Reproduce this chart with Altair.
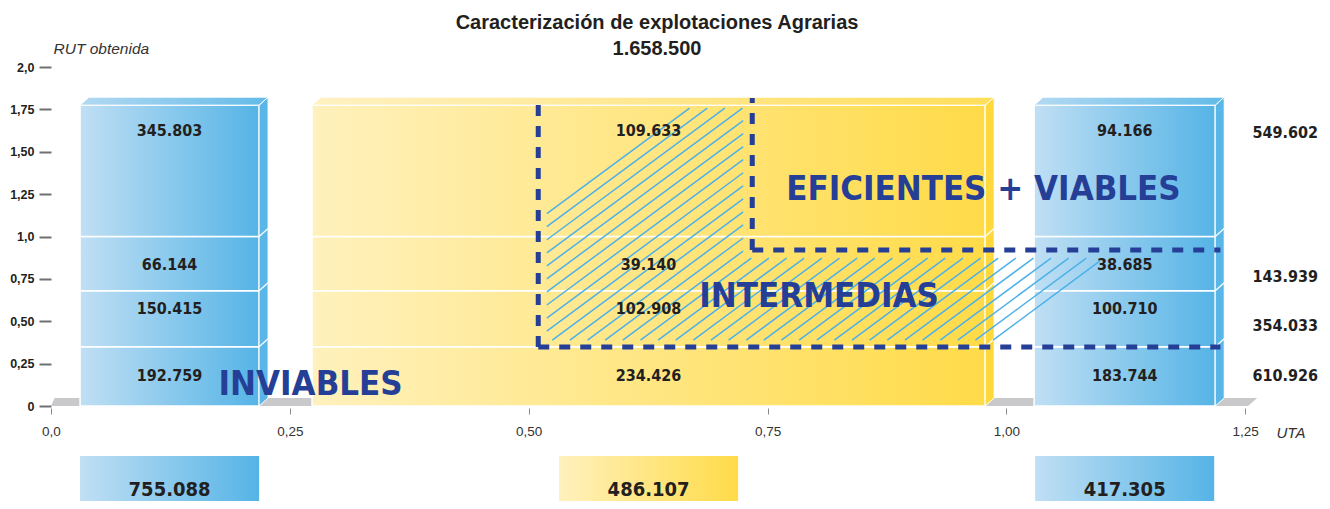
import altair as alt
import pandas as pd

# ---------------- data ----------------
title_lines = ["Caracterización de explotaciones Agrarias", "1.658.500"]
uta_classes = ["< 0,25 UTA", "0,25 - 1 UTA", "> 1 UTA"]
uta_bounds = [0.0, 0.25, 1.0, 1.25]          # UTA class limits (x)
rut_bounds = [0.0, 0.35, 0.68, 1.0, 1.775]   # RUT class limits (y)
col_kind = ["blue", "yellow", "blue"]

counts_uta_low = [192759, 150415, 66144, 345803]   # bottom -> top
counts_uta_mid = [234426, 102908, 39140, 109633]
counts_uta_high = [183744, 100710, 38685, 94166]
row_totals = [610926, 354033, 143939, 549602]
col_totals = [755088, 486107, 417305]

zone_labels = ["INVIABLES", "INTERMEDIAS", "EFICIENTES + VIABLES"]

x_ticks = [0, 0.25, 0.5, 0.75, 1.0, 1.25]
x_tick_labels = ["0,0", "0,25", "0,50", "0,75", "1,00", "1,25"]
y_ticks = [0, 0.25, 0.5, 0.75, 1.0, 1.25, 1.5, 1.75, 2.0]
y_tick_labels = ["0", "0,25", "0,50", "0,75", "1,0", "1,25", "1,50", "1,75", "2,0"]

# ---------------- layout / style ----------------
PX_X, PX_Y = 955.2, 169.5
X_MAX, Y_MIN, Y_MAX = 1.3, -0.56, 2.0
W = round(X_MAX * PX_X)
H = round((Y_MAX - Y_MIN) * PX_Y)
DX, DY = 9 / PX_X, 8 / PX_Y
INSET_L = [0.0304, 0.0232, 0.029]
INSET_R = [0.0322, 0.0222, 0.0314]
LABEL_Y = [0.18, 0.57, 0.83, 1.62]
LABEL_Y_TOT = [0.18, 0.47, 0.76, 1.61]
TOT_X = 1.292
BOX_TOP = -0.295
BOX_LABEL_Y = -0.496
ZONE_POS = [(0.2717, 0.065), (0.804, 0.584), (0.976, 1.215)]
HATCH_RECTS = [(0.519, 0.7245, 0.389, 1.758), (0.7245, 1.098, 0.389, 0.873)]
HATCH_FIRST = (0.5199, 1.1386)
HATCH_LAST = (0.9904, 0.4071)
HATCH_N = 36
HATCH_SLOPE_PX = 0.74
ZONE_X = [0.51, 0.734, 1.224]
ZONE_Y = [0.348, 0.92, 1.817]

TXT = "#231f20"
DARKBLUE = "#253f97"
NUM_FONT = "DejaVu Sans Condensed, DejaVu Sans"
BIG_FONT = "DejaVu Sans Condensed, DejaVu Sans"
AX_FONT = "Liberation Sans"


def grad(c0, c1):
    return alt.Gradient(gradient="linear",
                        stops=[alt.GradientStop(color=c0, offset=0),
                               alt.GradientStop(color=c1, offset=1)],
                        x1=0, x2=1, y1=0, y2=0)


FACE = {"blue": grad("#c0dff4", "#55b4e6"), "yellow": grad("#fff1bd", "#ffdb48")}
TOP = {"blue": grad("#b3d9f2", "#62bbe8"), "yellow": grad("#fff1c2", "#ffde5a")}
SIDE = {"blue": "#5ab6e6", "yellow": "#ffd93c"}

XS = alt.Scale(domain=[0, X_MAX], nice=False, zero=False)
YS = alt.Scale(domain=[Y_MIN, Y_MAX], nice=False, zero=False)

ylab = ("[" + ",".join(f"'{t}'" for t in y_tick_labels) + "][indexof(["
        + ",".join(str(v) for v in y_ticks) + "], datum.value)]")
xlab = ("[" + ",".join(f"'{t}'" for t in x_tick_labels) + "][indexof(["
        + ",".join(str(v) for v in x_ticks) + "], datum.value)]")

Y_AXIS = alt.Axis(values=y_ticks, labelExpr=ylab, domain=False, grid=False,
                  labelFlush=False, labelOverlap=False,
                  tickSize=12, tickWidth=2, tickColor="#707070", labelPadding=5,
                  labelFont=AX_FONT, labelFontSize=12.5, labelFontWeight="bold", labelColor=TXT,
                  title="RUT obtenida", titleAngle=0, titleAlign="left", titleBaseline="middle",
                  titleX=2, titleY=-19, titleFont=AX_FONT, titleFontSize=15.5,
                  titleFontStyle="italic", titleFontWeight="normal", titleColor="#333333")
X_AXIS = alt.Axis(values=x_ticks, labelExpr=xlab, domain=False, grid=False,
                  labelFlush=False, labelOverlap=False,
                  offset=-(round(-Y_MIN * PX_Y) - 2),
                  tickSize=6, tickWidth=1, tickColor="#8a8a8a", labelPadding=10,
                  labelFont=AX_FONT, labelFontSize=13.5, labelColor="#333333",
                  title="UTA", titleAlign="left", titleBaseline="middle",
                  titleX=1225, titleY=24, titleFont=AX_FONT, titleFontSize=15,
                  titleFontStyle="italic", titleFontWeight="normal", titleColor="#333333")


def X(f):
    return alt.X(f, type="quantitative", scale=XS, axis=X_AXIS)


def Y(f):
    return alt.Y(f, type="quantitative", scale=YS, axis=Y_AXIS)


def fmt(v):
    return f"{v:,}".replace(",", ".")


cols = [counts_uta_low, counts_uta_mid, counts_uta_high]
faces = [(lo + INSET_L[i], hi - INSET_R[i])
         for i, (lo, hi) in enumerate(zip(uta_bounds[:-1], uta_bounds[1:]))]
top = rut_bounds[-1]
bw = faces[0][1] - faces[0][0]

cells, sides, tops, seps, boxes = [], [], [], [], []
for ci, (fx0, fx1) in enumerate(faces):
    xc = (fx0 + fx1) / 2
    k = col_kind[ci]
    for ri in range(4):
        cells.append(dict(col=ci, kind=k, x0=fx0, x1=fx1, y0=rut_bounds[ri],
                          y1=rut_bounds[ri + 1], xc=xc, ly=LABEL_Y[ri],
                          label=fmt(cols[ci][ri])))
    sides += [dict(col=ci, kind=k, x=fx1, y=0, y2=top),
              dict(col=ci, kind=k, x=fx1 + DX, y=DY, y2=top + DY)]
    tops += [dict(col=ci, kind=k, y=top, x=fx0, x2=fx1),
             dict(col=ci, kind=k, y=top + DY, x=fx0 + DX, x2=fx1 + DX)]
    for b in rut_bounds[1:-1]:
        seps.append(dict(x=fx1, y=b, x2=fx1 + DX, y2=b + DY))
    boxes.append(dict(col=ci, kind=k, x0=xc - bw / 2, x1=xc + bw / 2,
                      y0=BOX_TOP, y1=Y_MIN, xc=xc, ly=BOX_LABEL_Y,
                      label=fmt(col_totals[ci])))

cells = pd.DataFrame(cells)
sides = pd.DataFrame(sides)
tops = pd.DataFrame(tops)
seps = pd.DataFrame(seps)
boxes = pd.DataFrame(boxes)

# floor shadows between bars
floor = []
edges = [(0.0, faces[0][0], 0.4 * DX, 0.0)]
for i in range(len(faces) - 1):
    edges.append((faces[i][1], faces[i + 1][0], DX, 0.0))
edges.append((faces[-1][1], 1.253, DX, DX))
for pi, (a, b, sa, sb) in enumerate(edges):
    floor += [dict(p=pi, y=0, x=a, x2=b), dict(p=pi, y=DY, x=a + sa, x2=b + sb)]
floor = pd.DataFrame(floor)

# hatching (parallel segments clipped to the intermediate zone)
s = HATCH_SLOPE_PX * PX_X / PX_Y
k1 = HATCH_FIRST[1] - s * HATCH_FIRST[0]
k2 = HATCH_LAST[1] - s * HATCH_LAST[0]
hatch = []
for i in range(HATCH_N):
    kk = k1 + (k2 - k1) * i / (HATCH_N - 1)
    for (rx0, rx1, ry0, ry1) in HATCH_RECTS:
        xa = max(rx0, (ry0 - kk) / s)
        xb = min(rx1, (ry1 - kk) / s)
        if xb > xa:
            hatch.append(dict(x=xa, y=s * xa + kk, x2=xb, y2=s * xb + kk))
hatch = pd.DataFrame(hatch)

dashes = pd.DataFrame([
    dict(x=ZONE_X[0], x2=ZONE_X[0], y=ZONE_Y[0], y2=ZONE_Y[2]),
    dict(x=ZONE_X[0], x2=ZONE_X[2], y=ZONE_Y[0], y2=ZONE_Y[0]),
    dict(x=ZONE_X[1], x2=ZONE_X[1], y=ZONE_Y[1], y2=ZONE_Y[2]),
    dict(x=ZONE_X[1], x2=ZONE_X[2], y=ZONE_Y[1], y2=ZONE_Y[1]),
])

totals = pd.DataFrame(dict(x=[TOT_X] * 4, y=LABEL_Y_TOT, label=[fmt(v) for v in row_totals]))
zones = pd.DataFrame(dict(x=[p[0] for p in ZONE_POS], y=[p[1] for p in ZONE_POS], label=zone_labels))

# ---------------- layers ----------------
layers = []
layers.append(alt.Chart(floor).mark_area(orient="horizontal", fill="#c9c9cb").encode(
    y=Y("y"), x=X("x"), x2="x2", detail="p:N"))

for kind in ["blue", "yellow"]:
    layers.append(alt.Chart(cells[cells.kind == kind]).mark_rect(
        fill=FACE[kind], stroke="white", strokeWidth=1.5).encode(
        x=X("x0"), x2="x1", y=Y("y0"), y2="y1"))
    layers.append(alt.Chart(sides[sides.kind == kind]).mark_area(
        orient="vertical", fill=SIDE[kind], stroke="white", strokeWidth=1).encode(
        x=X("x"), y=Y("y"), y2="y2", detail="col:N"))
    layers.append(alt.Chart(tops[tops.kind == kind]).mark_area(
        orient="horizontal", fill=TOP[kind], stroke="white", strokeWidth=1).encode(
        y=Y("y"), x=X("x"), x2="x2", detail="col:N"))
    layers.append(alt.Chart(boxes[boxes.kind == kind]).mark_rect(fill=FACE[kind]).encode(
        x=X("x0"), x2="x1", y=Y("y0"), y2="y1"))

layers.append(alt.Chart(seps).mark_rule(color="white", strokeWidth=1.2).encode(
    x=X("x"), x2="x2", y=Y("y"), y2="y2"))
layers.append(alt.Chart(hatch).mark_rule(color="#4db1e8", strokeWidth=1.5).encode(
    x=X("x"), x2="x2", y=Y("y"), y2="y2"))
layers.append(alt.Chart(dashes).mark_rule(color=DARKBLUE, strokeWidth=5, strokeDash=[11, 10]).encode(
    x=X("x"), x2="x2", y=Y("y"), y2="y2"))

layers.append(alt.Chart(cells).mark_text(font=NUM_FONT, fontSize=16, fontWeight="bold",
                                         color=TXT, baseline="middle").encode(
    x=X("xc"), y=Y("ly"), text="label:N"))
layers.append(alt.Chart(totals).mark_text(font=NUM_FONT, fontSize=16, fontWeight="bold",
                                          color=TXT, baseline="middle").encode(
    x=X("x"), y=Y("y"), text="label:N"))
layers.append(alt.Chart(boxes).mark_text(font=NUM_FONT, fontSize=20, fontWeight="bold",
                                         color=TXT, baseline="middle").encode(
    x=X("xc"), y=Y("ly"), text="label:N"))
layers.append(alt.Chart(zones).mark_text(font=BIG_FONT, fontSize=34.5, fontWeight="bold",
                                         color=DARKBLUE, baseline="alphabetic").encode(
    x=X("x"), y=Y("y"), text="label:N"))

chart = alt.layer(*layers).properties(
    width=W, height=H,
    title=alt.TitleParams(text=title_lines, font=AX_FONT, fontSize=20, fontWeight="bold",
                          color=TXT, anchor="middle", frame="group", dx=-15, dy=22,
                          lineHeight=26),
    padding={"left": 43, "top": 59, "right": 29, "bottom": 0},
    autosize=alt.AutoSizeParams(type="none"),
).configure_view(strokeWidth=0)

chart.save("out.html", embed_options={"renderer": "svg", "actions": False})
